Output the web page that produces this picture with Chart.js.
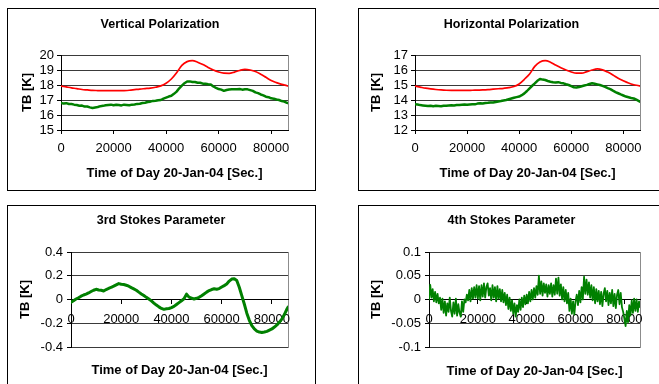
<!DOCTYPE html>
<html>
<head>
<meta charset="utf-8">
<script src="https://cdn.jsdelivr.net/npm/chart.js@4/dist/chart.umd.min.js"></script>
<style>
  html, body { margin: 0; padding: 0; background: #fff; width: 659px; height: 384px; overflow: hidden; }
  .panel { position: absolute; border: 1px solid #000; box-sizing: border-box; }
  .panel canvas { position: absolute; left: 0; top: 0; }
</style>
</head>
<body>
<div class="panel" style="left:7px;top:8px;width:309px;height:183px"><canvas id="c1" width="307" height="181"></canvas></div>
<div class="panel" style="left:358px;top:8px;width:309px;height:183px"><canvas id="c2" width="307" height="181"></canvas></div>
<div class="panel" style="left:7px;top:205px;width:309px;height:190px"><canvas id="c3" width="307" height="180"></canvas></div>
<div class="panel" style="left:358px;top:205px;width:309px;height:190px"><canvas id="c4" width="307" height="180"></canvas></div>
<script>
// sample times (seconds of day)
const tCoarse = [0,2000,4000,6000,8000,10000,12000,14000,16000,18000,20000,22000,24000,26000,28000,30000,32000,34000,36000,38000,
  40000,42000,44000,46000,48000,50000,52000,54000,56000,58000,60000,62000,64000,66000,68000,70000,72000,74000,76000,78000,
  80000,82000,84000,86000,86400];
const tMid = [0,1000,2000,3000,4000,5000,6000,7000,8000,9000,
  10000,11000,12000,13000,14000,15000,16000,17000,18000,19000,
  20000,21000,22000,23000,24000,25000,26000,27000,28000,29000,
  30000,31000,32000,33000,34000,35000,36000,37000,38000,39000,
  40000,41000,42000,43000,44000,45000,46000,47000,48000,49000,
  50000,51000,52000,53000,54000,55000,56000,57000,58000,59000,
  60000,61000,62000,63000,64000,65000,66000,67000,68000,69000,
  70000,71000,72000,73000,74000,75000,76000,77000,78000,79000,
  80000,81000,82000,83000,84000,85000,86000,86400];
const tFine = [0,500,1000,1500,2000,2500,3000,3500,4000,4500,
  5000,5500,6000,6500,7000,7500,8000,8500,9000,9500,
  10000,10500,11000,11500,12000,12500,13000,13500,14000,14500,
  15000,15500,16000,16500,17000,17500,18000,18500,19000,19500,
  20000,20500,21000,21500,22000,22500,23000,23500,24000,24500,
  25000,25500,26000,26500,27000,27500,28000,28500,29000,29500,
  30000,30500,31000,31500,32000,32500,33000,33500,34000,34500,
  35000,35500,36000,36500,37000,37500,38000,38500,39000,39500,
  40000,40500,41000,41500,42000,42500,43000,43500,44000,44500,
  45000,45500,46000,46500,47000,47500,48000,48500,49000,49500,
  50000,50500,51000,51500,52000,52500,53000,53500,54000,54500,
  55000,55500,56000,56500,57000,57500,58000,58500,59000,59500,
  60000,60500,61000,61500,62000,62500,63000,63500,64000,64500,
  65000,65500,66000,66500,67000,67500,68000,68500,69000,69500,
  70000,70500,71000,71500,72000,72500,73000,73500,74000,74500,
  75000,75500,76000,76500,77000,77500,78000,78500,79000,79500,
  80000,80500,81000,81500,82000,82500,83000,83500,84000,84500,
  85000,85500,86000,86400];

// Vertical polarization [K]
const vRed = [17.93,17.87,17.81,17.76,17.70,17.67,17.64,17.63,17.62,17.62,17.62,17.62,17.63,17.65,17.69,17.73,17.76,17.79,17.85,17.94,
  18.12,18.40,18.82,19.31,19.56,19.62,19.52,19.36,19.17,19.00,18.87,18.79,18.78,18.86,18.97,19.04,19.00,18.90,18.72,18.51,
  18.30,18.16,18.04,17.95,17.93];
const vGreen = [16.80,16.76,16.79,16.73,16.73,16.69,16.67,16.62,16.63,16.56,
  16.57,16.51,16.47,16.50,16.53,16.59,16.61,16.65,16.67,16.69,
  16.65,16.68,16.67,16.64,16.69,16.67,16.65,16.69,16.70,16.74,
  16.75,16.80,16.82,16.87,16.89,16.94,16.95,16.98,17.00,17.09,
  17.16,17.23,17.28,17.41,17.56,17.78,17.96,18.12,18.23,18.24,
  18.20,18.20,18.15,18.15,18.09,18.09,18.05,18.04,17.90,17.81,
  17.73,17.69,17.61,17.67,17.70,17.71,17.71,17.72,17.73,17.69,
  17.72,17.71,17.66,17.61,17.51,17.46,17.37,17.31,17.22,17.19,
  17.11,17.09,17.03,17.00,16.93,16.89,16.81,16.79];

// Horizontal polarization [K]
const hRed = [14.93,14.86,14.79,14.74,14.70,14.67,14.65,14.64,14.64,14.64,14.64,14.65,14.66,14.67,14.69,14.72,14.75,14.78,14.82,14.90,
  15.07,15.38,15.73,16.24,16.53,16.62,16.52,16.33,16.15,16.00,15.87,15.79,15.79,15.89,16.00,16.07,16.01,15.86,15.67,15.45,
  15.28,15.13,15.02,14.95,14.93];
const hGreen = [13.72,13.70,13.66,13.64,13.62,13.60,13.62,13.59,13.61,13.60,
  13.59,13.62,13.61,13.63,13.65,13.64,13.67,13.66,13.68,13.70,
  13.68,13.70,13.72,13.71,13.76,13.78,13.77,13.80,13.81,13.83,
  13.84,13.87,13.90,13.93,13.97,14.00,14.05,14.10,14.15,14.19,
  14.23,14.32,14.44,14.60,14.78,14.95,15.11,15.28,15.40,15.36,
  15.33,15.27,15.22,15.18,15.16,15.19,15.14,15.11,15.05,15.00,
  14.92,14.85,14.83,14.86,14.92,14.97,15.01,15.07,15.12,15.08,
  15.04,15.00,14.94,14.87,14.79,14.72,14.62,14.53,14.45,14.37,
  14.30,14.23,14.18,14.13,14.10,14.02,13.93,13.89];

// 3rd Stokes parameter [K]
const stokes3 = [-0.024,-0.010,0.004,0.015,0.028,0.038,0.045,0.055,0.067,0.078,
  0.086,0.080,0.078,0.072,0.084,0.093,0.103,0.112,0.123,0.134,
  0.128,0.126,0.120,0.112,0.100,0.089,0.078,0.062,0.047,0.033,
  0.018,0.004,-0.012,-0.030,-0.047,-0.062,-0.075,-0.083,-0.078,-0.076,
  -0.068,-0.058,-0.042,-0.026,-0.010,0.006,0.045,0.020,0.012,0.004,
  0.010,0.018,0.032,0.047,0.062,0.075,0.084,0.090,0.086,0.092,
  0.105,0.117,0.130,0.155,0.172,0.175,0.160,0.103,0.033,-0.038,
  -0.115,-0.175,-0.220,-0.248,-0.266,-0.274,-0.278,-0.274,-0.268,-0.258,
  -0.248,-0.232,-0.214,-0.190,-0.163,-0.125,-0.080,-0.064];

// 4th Stokes parameter [K]
const stokes4 = [0.000,0.031,0.004,0.022,-0.004,0.016,-0.006,0.012,-0.008,0.004,
  -0.022,0.002,-0.028,-0.004,-0.034,-0.008,-0.026,0.004,-0.024,-0.036,
  -0.006,-0.030,0.002,-0.034,-0.010,-0.028,-0.036,-0.004,-0.026,0.000,
  -0.006,0.010,-0.002,0.020,-0.004,0.024,0.002,0.026,0.004,0.030,
  0.002,0.028,-0.002,0.030,0.006,0.034,0.004,0.026,0.034,0.008,
  0.024,-0.002,0.030,0.004,0.026,-0.004,0.028,0.002,0.022,-0.004,
  0.020,-0.006,0.014,-0.012,0.010,-0.020,0.004,-0.024,-0.002,-0.030,
  -0.008,-0.036,-0.012,-0.026,0.000,-0.022,0.004,-0.016,0.008,-0.010,
  0.010,-0.008,0.016,-0.004,0.020,0.000,0.024,0.004,0.028,0.010,
  0.050,0.012,0.038,0.008,0.034,0.014,0.032,0.006,0.030,0.012,
  0.034,0.006,0.030,0.010,0.044,0.012,0.046,0.008,0.032,0.000,
  0.026,-0.004,0.020,-0.008,0.014,-0.024,0.002,-0.030,-0.004,-0.032,
  -0.004,0.010,-0.012,0.018,-0.006,0.026,0.000,0.048,0.012,0.042,
  0.010,0.036,0.004,0.030,-0.002,0.026,-0.008,0.022,-0.004,0.018,
  -0.010,0.016,-0.014,0.012,0.024,-0.004,0.018,-0.012,0.014,-0.008,
  0.020,-0.014,0.012,-0.018,0.010,0.020,-0.010,0.014,-0.016,-0.026,
  -0.040,-0.056,-0.024,-0.048,-0.012,-0.034,-0.002,-0.028,0.002,-0.024,
  0.000,-0.026,-0.004,-0.016];

const xTicks = [0, 20000, 40000, 60000, 80000];
const xTickLabels = ['0', '20000', '40000', '60000', '80000'];
const xMax = 86400;
const vTicks = [15, 16, 17, 18, 19, 20];
const vTickLabels = ['15', '16', '17', '18', '19', '20'];
const hTicks = [12, 13, 14, 15, 16, 17];
const hTickLabels = ['12', '13', '14', '15', '16', '17'];
const s3Ticks = [-0.4, -0.2, 0, 0.2, 0.4];
const s3TickLabels = ['-0.4', '-0.2', '0', '0.2', '0.4'];
const s4Ticks = [-0.1, -0.05, 0, 0.05, 0.1];
const s4TickLabels = ['-0.1', '-0.05', '0', '0.05', '0.1'];

const RED = '#ff0000';
const GREEN = '#008000';
const FONT = '"Liberation Sans", Arial, sans-serif';
const X_TITLE = 'Time of Day 20-Jan-04 [Sec.]';

const panelText = {
  id: 'panelText',
  beforeDraw(chart) {
    // gray plot-area edge on the right
    const a = chart.chartArea, ctx = chart.ctx;
    ctx.save();
    ctx.strokeStyle = '#8c8c8c';
    ctx.lineWidth = 1;
    ctx.beginPath();
    ctx.moveTo(a.right + 0.5, a.top);
    ctx.lineTo(a.right + 0.5, a.bottom + 1);
    ctx.stroke();
    ctx.restore();
  },
  afterDraw(chart, args, o) {
    const a = chart.chartArea, ctx = chart.ctx;
    ctx.save();
    ctx.fillStyle = '#000';
    ctx.textAlign = 'center';
    ctx.textBaseline = 'middle';
    ctx.font = 'bold 12.5px ' + FONT;
    ctx.fillText(o.title, o.titleX, o.titleY);
    ctx.font = 'bold 13px ' + FONT;
    ctx.fillText(X_TITLE, (a.left + a.right) / 2, o.xTitleY);
    ctx.translate(o.yTitleX, (a.top + a.bottom) / 2);
    ctx.rotate(-Math.PI / 2);
    ctx.fillText('TB [K]', 0, 0);
    ctx.restore();
  }
};

function makeChart(id, p) {
  const canvas = document.getElementById(id);
  const W = canvas.width, H = canvas.height;
  const yW = 40, xH = 30;
  const [left, top, right, bottom] = p.area;
  return new Chart(canvas, {
    type: 'line',
    data: {
      datasets: p.series.map(s => ({
        data: s.t.map((t, i) => ({ x: t, y: s.v[i] })),
        borderColor: s.color,
        borderWidth: s.width,
        borderJoinStyle: 'round',
        borderCapStyle: 'round',
        pointRadius: 0,
        fill: false,
        cubicInterpolationMode: s.smooth ? 'monotone' : 'default',
        tension: 0
      }))
    },
    options: {
      responsive: false,
      animation: false,
      events: [],
      layout: { padding: { left: left - yW, top: top, right: W - right, bottom: H - bottom - (p.xAtZero ? 0 : xH) } },
      plugins: { legend: { display: false }, tooltip: { enabled: false }, panelText: p.text },
      scales: {
        x: {
          type: 'linear', min: 0, max: xMax,
          position: p.xAtZero ? { y: 0 } : 'bottom',
          afterBuildTicks: s => { s.ticks = xTicks.map(v => ({ value: v })); },
          afterFit: s => { s.height = xH; },
          ticks: { callback: (v, i) => xTickLabels[i], color: '#000', font: { family: FONT, size: 13 }, padding: p.xPad, maxRotation: 0, autoSkip: false },
          grid: { drawOnChartArea: false, drawTicks: true, tickLength: 4, color: '#000' },
          border: { color: '#000' }
        },
        y: {
          type: 'linear', min: p.yTicks[0], max: p.yTicks[p.yTicks.length - 1],
          afterBuildTicks: s => { s.ticks = p.yTicks.map(v => ({ value: v })); },
          afterFit: s => { s.width = yW; },
          ticks: { callback: (v, i) => p.yTickLabels[i], color: '#000', font: { family: FONT, size: 13 }, padding: p.yPad, autoSkip: false },
          grid: { color: '#3a3a3a', tickLength: 4, tickColor: '#000' },
          border: { color: '#000' }
        }
      }
    },
    plugins: [panelText]
  });
}

makeChart('c1', {
  area: [53, 46, 280, 121], xPad: 6.5, yPad: 3,
  yTicks: vTicks, yTickLabels: vTickLabels,
  text: { title: 'Vertical Polarization', titleX: 152, titleY: 16, xTitleY: 164, yTitleX: 19 },
  series: [
    { t: tCoarse, v: vRed, color: RED, width: 1.7, smooth: true },
    { t: tMid, v: vGreen, color: GREEN, width: 2.5 }
  ]
});

makeChart('c2', {
  area: [56, 46, 281, 121], xPad: 6.5, yPad: 3,
  yTicks: hTicks, yTickLabels: hTickLabels,
  text: { title: 'Horizontal Polarization', titleX: 152.5, titleY: 16, xTitleY: 164, yTitleX: 17 },
  series: [
    { t: tCoarse, v: hRed, color: RED, width: 1.7, smooth: true },
    { t: tMid, v: hGreen, color: GREEN, width: 2.5 }
  ]
});

makeChart('c3', {
  area: [63, 46, 280, 141], xPad: 8, yPad: 4, xAtZero: true,
  yTicks: s3Ticks, yTickLabels: s3TickLabels,
  text: { title: '3rd Stokes Parameter', titleX: 153, titleY: 15, xTitleY: 164, yTitleX: 17 },
  series: [
    { t: tMid, v: stokes3, color: GREEN, width: 3 }
  ]
});

makeChart('c4', {
  area: [70, 46, 281, 141], xPad: 8, yPad: 4, xAtZero: true,
  yTicks: s4Ticks, yTickLabels: s4TickLabels,
  text: { title: '4th Stokes Parameter', titleX: 152.5, titleY: 15, xTitleY: 165, yTitleX: 17 },
  series: [
    { t: tFine, v: stokes4, color: GREEN, width: 1.8 }
  ]
});
</script>
</body>
</html>
